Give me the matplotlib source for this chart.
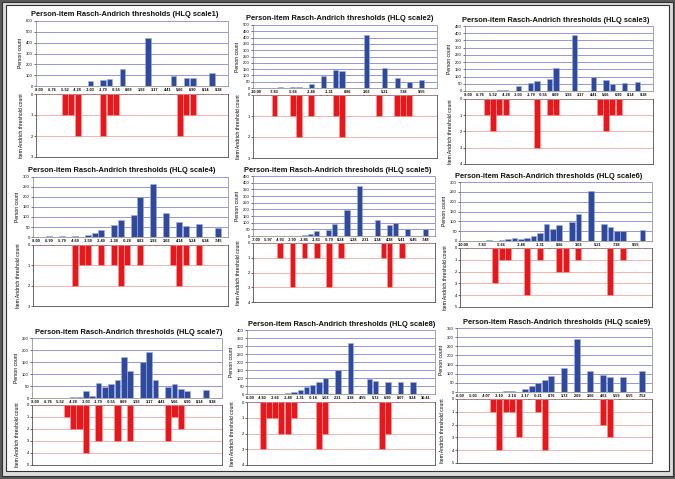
import numpy as np
import matplotlib
matplotlib.use('Agg')
import matplotlib.pyplot as plt
from matplotlib.patches import Rectangle

plt.rcParams['font.family'] = ['Liberation Sans', 'DejaVu Sans']

W, H = 675, 479
n_bins = 30
bins = np.arange(n_bins)

titles = ['Person-item Rasch-Andrich thresholds (HLQ scale%d)' % i for i in range(1, 10)]

# x tick labels (one label every `step` bins)
labels_a = ['-8.00', '-6.76', '-5.52', '-4.28', '-3.03', '-1.79', '-0.55', '0.69', '1.93',
            '3.17', '4.41', '5.66', '6.90', '8.14', '9.38']
labels_b = ['-10.00', '-7.83', '-5.66', '-3.48', '-1.31', '0.86', '3.03', '5.21', '7.38', '9.55']
labels_4 = ['-8.00', '-6.90', '-5.79', '-4.69', '-3.59', '-2.49', '-1.38', '-0.28', '0.83',
            '1.93', '3.03', '4.14', '5.24', '6.34', '7.45']
labels_5 = ['-7.00', '-5.97', '-4.93', '-3.90', '-2.86', '-1.83', '-0.79', '0.24', '1.28',
            '2.31', '3.34', '4.38', '5.41', '6.45', '7.48']
labels_8 = ['-6.00', '-4.83', '-3.66', '-2.48', '-1.31', '-0.14', '1.03', '2.21', '3.38',
            '4.55', '5.72', '6.90', '8.07', '9.24', '10.41']
labels_9 = ['-6.00', '-5.03', '-4.07', '-3.10', '-2.14', '-1.17', '-0.21', '0.76', '1.72',
            '2.69', '3.66', '4.62', '5.59', '6.55', '7.52']

# person counts per bin (blue) and item threshold counts per bin (red)
persons1 = [0, 2, 0, 2, 0, 3, 0, 2, 49, 0, 55, 64, 0, 153, 0, 0, 0, 447, 0, 0, 0, 95, 0, 76, 76, 0, 0, 122, 0, 0]
items1 = [0, 0, 0, 0, 1, 1, 2, 0, 0, 0, 2, 1, 1, 0, 0, 0, 0, 0, 0, 0, 0, 0, 2, 1, 1, 0, 0, 0, 0, 0]
persons2 = [0, 3, 0, 0, 5, 0, 8, 8, 0, 34, 0, 97, 0, 145, 137, 0, 0, 0, 421, 0, 0, 158, 0, 79, 0, 50, 0, 63, 0, 0]
items2 = [0, 0, 0, 1, 0, 0, 1, 2, 0, 1, 0, 0, 0, 1, 2, 0, 0, 0, 0, 0, 1, 0, 0, 1, 1, 1, 0, 0, 0, 0]
persons3 = [0, 0, 0, 0, 3, 5, 8, 0, 32, 0, 53, 67, 0, 83, 161, 0, 0, 388, 0, 0, 96, 0, 73, 51, 0, 55, 0, 60, 0, 0]
items3 = [0, 0, 0, 1, 2, 1, 1, 0, 0, 0, 0, 3, 0, 1, 1, 0, 0, 0, 0, 0, 0, 1, 2, 1, 1, 0, 0, 0, 0, 0]
persons4 = [0, 0, 3, 0, 5, 0, 5, 0, 8, 18, 36, 0, 59, 86, 0, 110, 201, 0, 267, 0, 122, 0, 76, 56, 0, 66, 0, 0, 43, 0]
items4 = [0, 0, 0, 0, 0, 0, 2, 1, 1, 0, 1, 0, 1, 2, 1, 0, 1, 0, 0, 0, 0, 1, 2, 1, 0, 1, 0, 0, 0, 0]
persons5 = [0, 0, 0, 0, 0, 0, 0, 0, 5, 13, 38, 0, 48, 93, 0, 198, 0, 374, 0, 0, 121, 0, 80, 95, 0, 50, 0, 0, 50, 0]
items5 = [0, 0, 0, 0, 1, 0, 3, 0, 1, 0, 1, 0, 3, 0, 1, 0, 0, 0, 0, 0, 0, 1, 3, 0, 1, 0, 0, 0, 0, 0]
persons6 = [0, 0, 2, 0, 5, 0, 5, 12, 17, 12, 14, 24, 41, 87, 63, 82, 0, 98, 135, 0, 254, 0, 87, 72, 50, 50, 0, 0, 58, 0]
items6 = [0, 0, 0, 0, 0, 3, 1, 1, 0, 0, 4, 0, 1, 0, 0, 2, 2, 0, 1, 0, 0, 0, 0, 4, 0, 1, 0, 0, 0, 0]
persons7 = [0, 2, 0, 2, 0, 0, 5, 5, 29, 8, 61, 45, 57, 73, 170, 112, 0, 148, 191, 77, 0, 45, 57, 36, 28, 0, 0, 34, 0, 0]
items7 = [0, 0, 0, 0, 0, 1, 2, 2, 4, 0, 3, 0, 0, 3, 0, 3, 0, 0, 0, 0, 0, 3, 1, 2, 0, 0, 0, 0, 0, 0]
persons8 = [0, 0, 0, 2, 2, 3, 8, 14, 25, 43, 56, 77, 99, 0, 149, 0, 317, 0, 0, 95, 80, 0, 72, 0, 77, 0, 72, 0, 0, 0]
items8 = [0, 0, 3, 1, 1, 2, 2, 1, 0, 0, 0, 3, 2, 0, 0, 0, 0, 0, 0, 0, 0, 3, 2, 0, 0, 0, 0, 0, 0, 0]
persons9 = [0, 0, 0, 0, 0, 0, 0, 3, 3, 2, 15, 33, 49, 66, 89, 0, 131, 0, 290, 0, 117, 0, 95, 82, 0, 82, 0, 0, 115, 0]
items9 = [0, 0, 0, 0, 0, 1, 4, 1, 1, 3, 0, 0, 1, 4, 0, 0, 0, 0, 0, 0, 0, 0, 2, 3, 0, 0, 0, 0, 0, 0]

persons = [persons1, persons2, persons3, persons4, persons5, persons6, persons7, persons8, persons9]
items = [items1, items2, items3, items4, items5, items6, items7, items8, items9]
xlabels = [labels_a, labels_b, labels_a, labels_4, labels_5, labels_b, labels_a, labels_8, labels_9]

# axis scales: (person max, person step, item max)
scales = [(600, 100, 3), (500, 50, 3), (450, 50, 4),
          (300, 50, 3), (450, 50, 4), (300, 50, 5),
          (250, 50, 5), (400, 50, 4), (350, 50, 5)]

# pixel layout: x0, x1, upper top, upper bottom, lower top, lower bottom, title x, title y
layout = [(36, 228, 21, 86, 94, 157, 125, 15),
          (253, 437, 25, 88, 95, 158, 340, 19),
          (465, 653, 26, 91, 99, 164, 556, 20),
          (33, 228, 177, 237, 245, 306, 122, 171),
          (253, 435, 176, 236, 243, 302, 338, 171),
          (460, 652, 182, 241, 248, 307, 549, 176),
          (32, 222, 338, 398, 405, 465, 129, 332),
          (247, 435, 330, 394, 402, 465, 342, 324),
          (457, 652, 328, 392, 399, 463, 557, 322)]


def box(x0, x1, top, bot):
    return [x0 / W, 1 - bot / H, (x1 - x0) / W, (bot - top) / H]


fig = plt.figure(figsize=(W / 100, H / 100), dpi=100)
fig.patch.set_facecolor('#5a5a5a')
fig.patches.append(Rectangle((2 / W, 1 - 476 / H), 671 / W, 474 / H, transform=fig.transFigure,
                             facecolor='#dcdcdc', edgecolor='#333333', lw=0.8, zorder=-2))
fig.patches.append(Rectangle((6 / W, 1 - 471 / H), 663 / W, 466 / H, transform=fig.transFigure,
                             facecolor='white', edgecolor='#333333', lw=0.8, zorder=-1))

for i in range(9):
    x0, x1, ut, ub, lt, lb, tx, ty = layout[i]
    pmax, pstep, imax = scales[i]
    labs = xlabels[i]
    step = 2 if len(labs) == 15 else 3

    # person histogram
    ax = fig.add_axes(box(x0, x1, ut, ub))
    ax.bar(bins, persons[i], width=0.85, color='#2f4a9c', edgecolor='#9fb0de', lw=0.4, zorder=3)
    ax.set_xlim(-0.5, n_bins - 0.5)
    ax.set_ylim(0, pmax)
    ax.set_yticks(np.arange(0, pmax + 1, pstep))
    ax.grid(axis='y', color='#8585d8', lw=0.6)
    ax.set_axisbelow(True)
    ax.set_xticks(bins[::step][:len(labs)])
    ax.set_xticklabels(labs, fontsize=2.8, fontweight='bold')
    ax.tick_params(axis='x', length=0, pad=1.5)
    ax.tick_params(axis='y', labelsize=3, length=1.2, width=0.4, pad=1)
    for s in ax.spines.values():
        s.set_color('#808080')
        s.set_linewidth(0.5)
    ax.spines['top'].set_visible(False)
    ax.set_ylabel('Person count', fontsize=3.6, labelpad=2.5)

    # item threshold histogram (pointing down)
    ax2 = fig.add_axes(box(x0, x1, lt, lb))
    ax2.bar(bins, items[i], width=0.95, color='#e8171c', edgecolor='#f3a0a0', lw=0.4, zorder=3)
    ax2.set_xlim(-0.5, n_bins - 0.5)
    ax2.set_ylim(imax, 0)
    ax2.set_yticks(np.arange(0, imax + 1))
    ax2.grid(axis='y', color='#f4a69e', lw=0.6)
    ax2.set_axisbelow(True)
    ax2.set_xticks([])
    ax2.tick_params(axis='y', labelsize=3, length=1.2, width=0.4, pad=1)
    for s in ax2.spines.values():
        s.set_color('#505050')
        s.set_linewidth(0.6)
    ax2.set_ylabel('Item Andrich threshold count', fontsize=3.6, labelpad=5)

    fig.text(tx / W, 1 - ty / H, titles[i], ha='center', va='center',
             fontsize=5.4, fontweight='bold', color='#111111')

fig.savefig('out.png', dpi=100)
